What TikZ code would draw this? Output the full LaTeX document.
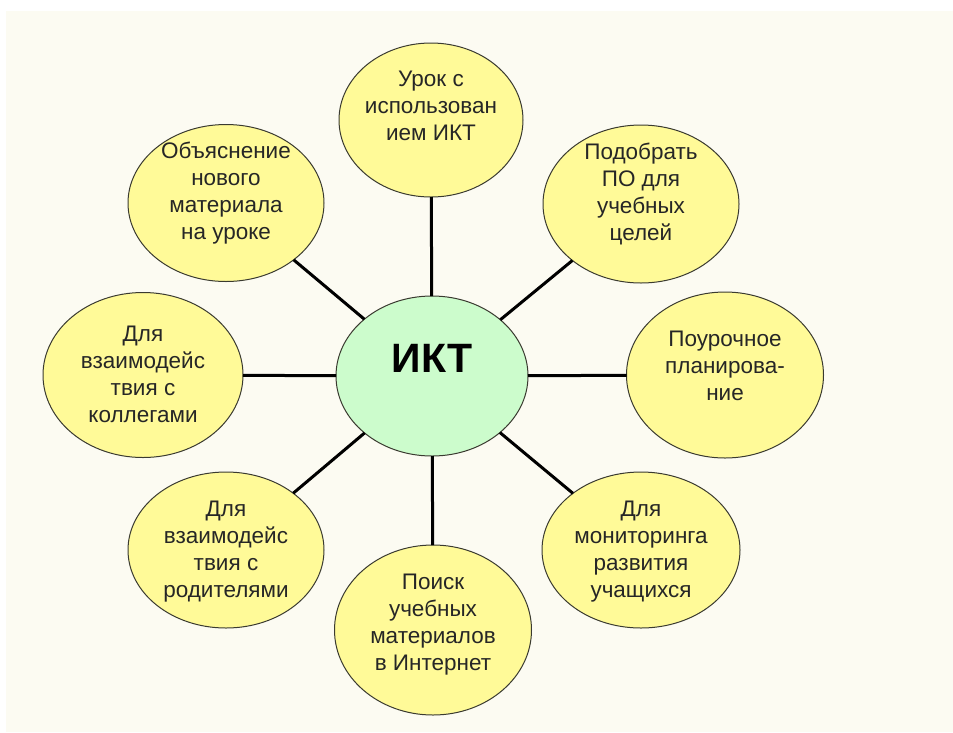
\documentclass[tikz,border=0pt]{standalone}
\usepackage{fontspec}
\setmainfont{Liberation Sans}
\usetikzlibrary{shapes.geometric}
\definecolor{bgcream}{HTML}{FCFBF2}
\definecolor{leafyellow}{HTML}{FFFA98}
\definecolor{hubgreen}{HTML}{CCFCCC}
\definecolor{edgegray}{HTML}{3A3A30}
\tikzset{
  leaf/.style 2 args={ellipse, draw=edgegray, line width=1pt, fill=leafyellow,
    minimum width=#1pt, minimum height=#2pt, inner sep=0pt, outer sep=0pt},
  hub/.style={ellipse, draw=edgegray, line width=1pt, fill=hubgreen,
    minimum width=192pt, minimum height=160pt, inner sep=0pt, outer sep=0pt},
  leaftext/.style={align=center, text=black!85, font=\fontsize{22.5}{27}\selectfont},
  conn/.style={line width=3pt, black}
}
\begin{document}
\begin{tikzpicture}[x=1pt, y=-1pt]
\useasboundingbox (0,0) rectangle (953,732);
\fill[white] (0,0) rectangle (953,732);
\fill[bgcream] (6,11) rectangle (953,732);

\node[hub, label={[yshift=18pt, font=\bfseries\fontsize{41}{41}\selectfont]center:ИКТ}] (c) at (432,376) {};

\node[leaf={184}{154}, label={[leaftext, yshift=14pt]center:Урок с\\использован\\ием ИКТ}] (n1) at (431,120) {};
\node[leaf={196}{158}, label={[leaftext, yshift=10pt]center:Подобрать\\ПО для\\учебных\\целей}] (n2) at (641,204) {};
\node[leaf={197}{166}, label={[leaftext, yshift=9pt]center:Поурочное\\планирова-\\ние}] (n3) at (725,375) {};
\node[leaf={198}{156}, label={[leaftext, yshift=-2pt]center:Для\\мониторинга\\развития\\учащихся}] (n4) at (641,550) {};
\node[leaf={197}{170}, label={[leaftext, yshift=5pt]center:Поиск\\учебных\\материалов\\в Интернет}] (n5) at (433,630) {};
\node[leaf={196}{156}, label={[leaftext, yshift=-2pt]center:Для\\взаимодейс\\твия с\\родителями}] (n6) at (226,550) {};
\node[leaf={200}{165}, label={[leaftext, yshift=1pt]center:Для\\взаимодейс\\твия с\\коллегами}] (n7) at (143,375) {};
\node[leaf={196}{157}, label={[leaftext, yshift=10pt]center:Объяснение\\нового\\материала\\на уроке}] (n8) at (226,203) {};

\foreach \n in {n1,n2,n3,n4,n5,n6,n7,n8}
  \draw[conn] (c) -- (\n);
\end{tikzpicture}
\end{document}
